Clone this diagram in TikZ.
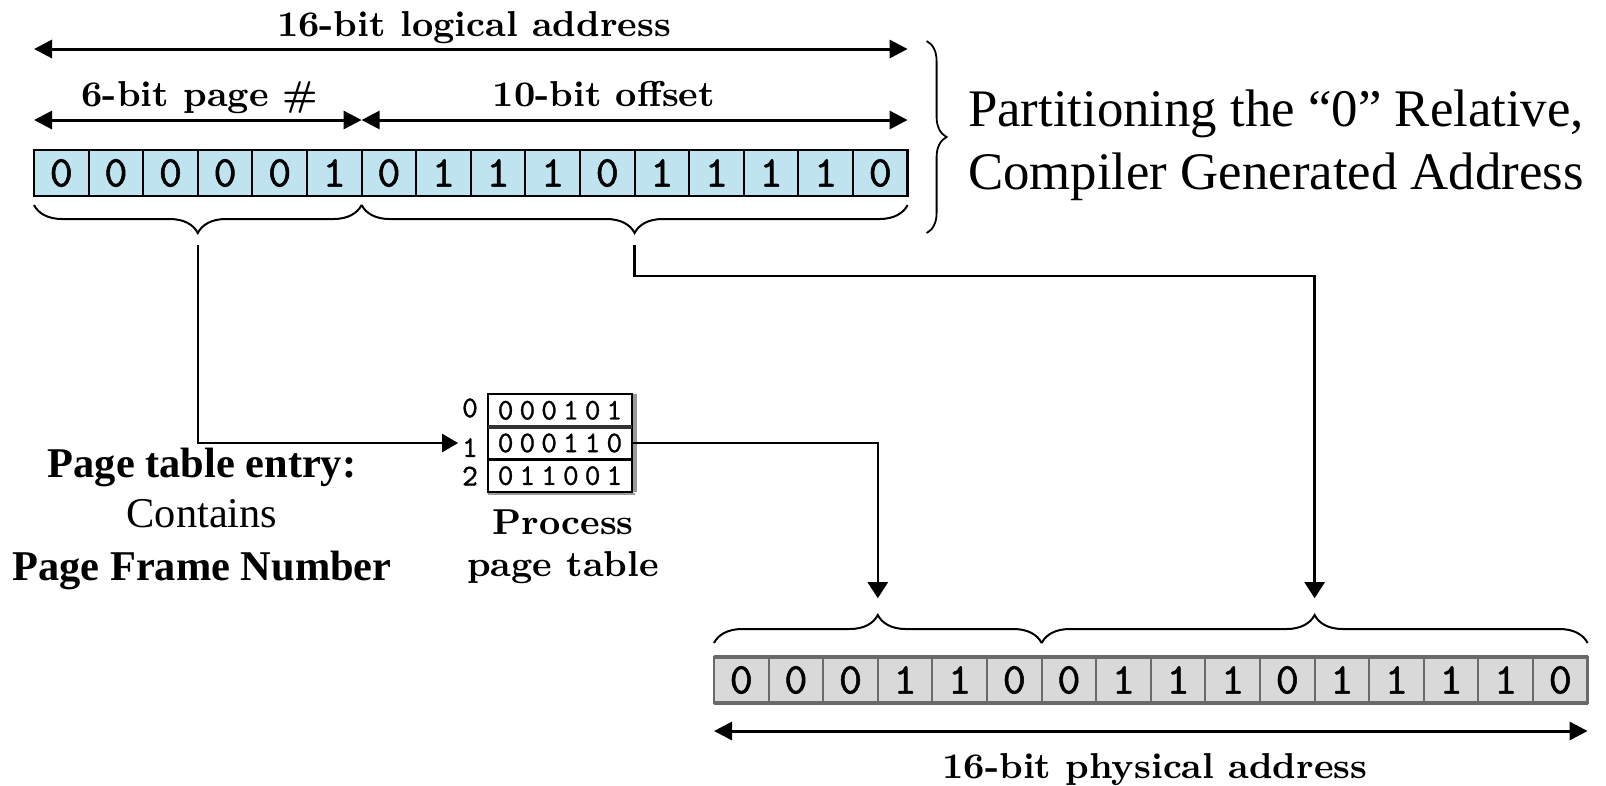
\documentclass[tikz,border=0pt]{standalone}
\usepackage{fontspec}
\newfontfamily\timesfont{Liberation Serif}
\newfontfamily\bitfont{lmmono10-regular.otf}[FakeBold=1.2]
\newfontfamily\tablefont{lmmono10-regular.otf}[FakeBold=1,LetterSpace=20]
\usetikzlibrary{arrows.meta,decorations.pathreplacing,calc}
\definecolor{logicfill}{HTML}{BFE4EF}
\definecolor{physfill}{HTML}{D9D9D9}
\definecolor{physedge}{HTML}{6A6A6A}

\begin{document}
\begin{tikzpicture}[x=0.25pt,y=-0.25pt,
  every node/.style={inner sep=0pt,outer sep=0pt},
  bitcell/.style={draw=black,line width=0.5pt,fill=logicfill,
    minimum width=13.65pt,minimum height=11.5pt,
    font=\bitfont\fontsize{11}{13}\selectfont},
  physcell/.style={bitcell,draw=physedge,fill=physfill},
  rowcell/.style={draw=black,line width=0.6pt,fill=white,
    minimum width=36.1pt,minimum height=8.2pt,
    font=\tablefont\fontsize{7.5}{9}\selectfont},
  rowidx/.style={font=\bitfont\fontsize{7.5}{9}\selectfont},
  lbl/.style={anchor=base,font=\bfseries\fontsize{9}{11}\selectfont},
  side/.style={anchor=base,font=\timesfont\fontsize{10.6}{12.7}\selectfont},
  title/.style={anchor=base west,font=\timesfont\fontsize{13.2}{15.8}\selectfont},
  dimarrow/.style={line width=0.75pt,
    {Triangle[length=4.5pt,width=4.5pt]}-{Triangle[length=4.5pt,width=4.5pt]}},
  conn/.style={line width=0.6pt},
  downtip/.style={-{Triangle[length=4pt,width=5pt]}},
  brc/.style={line width=0.5pt,decorate},
]
\useasboundingbox (0,0) rectangle (1606,785);

% logical address register
\foreach \b [count=\i] in {0,0,0,0,0,1,0,1,1,1,0,1,1,1,1,0}
  \node[bitcell] (t\i) at ({34+(\i-0.5)*54.6},173) {\b};
\draw[line width=0.6pt] (t1.north west) rectangle (t16.south east);

% physical address register
\foreach \b [count=\i] in {0,0,0,1,1,0,0,1,1,1,0,1,1,1,1,0}
  \node[physcell] (b\i) at ({714+(\i-0.5)*54.6},680) {\b};
\draw[physedge,line width=1.2pt] (b1.north west) -- (b16.north east);
\draw[physedge,line width=1.2pt] (b1.south west) -- (b16.south east);
\draw[physedge,line width=0.6pt] (b1.north west) -- (b1.south west);
\draw[physedge,line width=0.6pt] (b16.north east) -- (b16.south east);

% dimension arrows and their labels
\coordinate (logL) at ($(t1.north west)+(0,-101)$);
\coordinate (logR) at ($(t16.north east)+(0,-101)$);
\draw[dimarrow] (logL) -- (logR);
\node[lbl] (logical) at (474,36) {16-bit logical address};

\coordinate (pgL) at ($(t1.north west)+(0,-30)$);
\coordinate (pgR) at ($(t6.north east)+(0,-30)$);
\coordinate (offR) at ($(t16.north east)+(0,-30)$);
\draw[dimarrow] (pgL) -- (pgR);
\draw[dimarrow] (pgR) -- (offR);
\node[lbl] (pagelbl) at (200,106) {6-bit page \#};
\node[lbl] (offlbl) at (604,106) {10-bit offset};

\coordinate (phyL) at ($(b1.south west)+(0,28)$);
\coordinate (phyR) at ($(b16.south east)+(0,28)$);
\draw[dimarrow] (phyL) -- (phyR);
\node[lbl] (physical) at (1155,778) {16-bit physical address};

% braces under the logical address
\draw[brc,decoration={brace,mirror,amplitude=7pt}]
  ($(t1.south west)+(0,9)$) -- ($(t6.south east)+(0,9)$);
\draw[brc,decoration={brace,mirror,amplitude=7pt}]
  ($(t6.south east)+(0,9)$) -- ($(t16.south east)+(0,9)$);
\coordinate (pgtip) at ($($(t1.south west)!0.5!(t6.south east)$)+(0,37)$);
\coordinate (offtip) at ($($(t6.south east)!0.5!(t16.south east)$)+(0,37)$);

% braces over the physical address
\draw[brc,decoration={brace,amplitude=7pt}]
  ($(b1.north west)+(0,-14)$) -- ($(b6.north east)+(0,-14)$);
\draw[brc,decoration={brace,amplitude=7pt}]
  ($(b6.north east)+(0,-14)$) -- ($(b16.north east)+(0,-14)$);
\coordinate (frametip) at ($($(b1.north west)!0.5!(b6.north east)$)+(0,-42)$);
\coordinate (physofftip) at ($($(b6.north east)!0.5!(b16.north east)$)+(0,-42)$);

% brace grouping the logical address with its caption
\draw[brc,line width=0.45pt,decoration={brace,amplitude=5pt,aspect=0.5}]
  ($(t16.north east)+(19,-109)$) -- ($(t16.south east)+(19,37)$);
\node[title] (cap1) at (968,126) {Partitioning the “0” Relative,};
\node[title] (cap2) at (968,189) {Compiler Generated Address};

% process page table
\node[rowcell] (r0) at (560,410.3) {000101};
\node[rowcell] (r1) at (560,443) {000110};
\node[rowcell] (r2) at (560,475.7) {011001};
\draw[line width=1pt,black!80] (r0.south west) -- (r0.south east);
\draw[line width=0.8pt] (r1.south west) -- (r1.south east);
\draw[line width=0.9pt,black!40] ($(r0.north east)+(3,0)$) -- ($(r2.south east)+(3,0)$);
\draw[line width=0.6pt,black!40] ($(r2.south west)+(0,2)$) -- ($(r2.south east)+(3,2)$);
\node[rowidx] (i0) at (470,408) {0};
\node[rowidx] (i1) at (470,447.5) {1};
\node[rowidx] (i2) at (470,476) {2};
\node[lbl] (pt1) at (563,534) {Process};
\node[lbl] (pt2) at (563,576) {page table};

% page table entry note
\node[side,font=\timesfont\bfseries\fontsize{10.6}{12.7}\selectfont] (note1) at (202,477) {Page table entry:};
\node[side] (note2) at (202,527.5) {Contains};
\node[side,font=\timesfont\bfseries\fontsize{10.6}{12.7}\selectfont] (note3) at (202,580) {Page Frame Number};

% connectors
\draw[conn,-{Triangle[length=4pt,width=4.5pt]},shorten <=3pt,shorten >=1pt]
  (pgtip) |- (i1.west |- r1.west);
\draw[conn,downtip,shorten >=4.2pt] (r1.east) -| (frametip);
\draw[conn,downtip,shorten <=3pt,shorten >=4.2pt]
  (offtip) -- ++(0,43) -| (physofftip);
\end{tikzpicture}
\end{document}
